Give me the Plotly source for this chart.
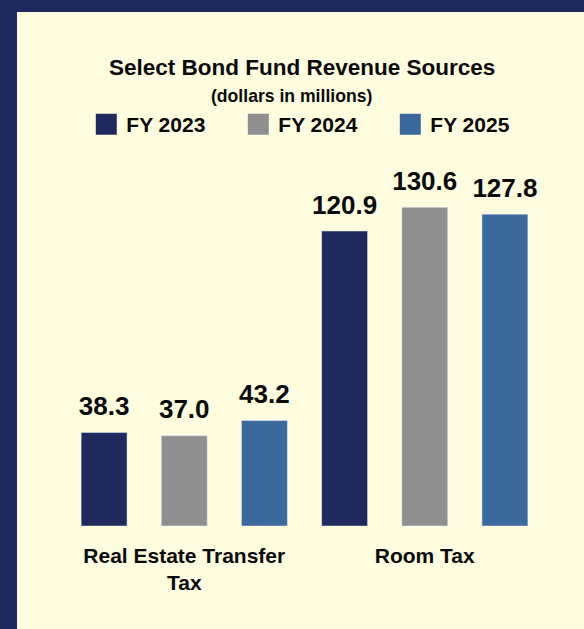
import plotly.graph_objects as go

categories = ["Real Estate Transfer<br>Tax", "Room Tax"]
series_names = ["FY 2023", "FY 2024", "FY 2025"]
fy2023 = [38.3, 120.9]
fy2024 = [37.0, 130.6]
fy2025 = [43.2, 127.8]
series_values = [fy2023, fy2024, fy2025]
colors = ["#1F295E", "#8F8F8F", "#3B699C"]

title_text = "Select Bond Fund Revenue Sources"
subtitle_text = "(dollars in millions)"

W, H = 584, 629
ML, MR, MT, MB = 64, 39, 160, 103
PW = W - ML - MR
PH = H - MT - MB
NAVY = "#1F295E"
CREAM = "#FFFDE0"
SANS = "Liberation Sans, Arial, sans-serif"
TXT = "#0A0A0A"


def ypaper(px):
    return (H - MB - px) / PH


def xpaper(px):
    return (px - ML) / PW


fig = go.Figure()
for name, vals, col in zip(series_names, series_values, colors):
    fig.add_bar(x=categories, y=vals, name=name, marker_color=col,
                offsetgroup=name, showlegend=False, hoverinfo="skip")
for name, vals, col in zip(series_names, series_values, colors):
    fig.add_scatter(x=categories, y=vals, mode="markers+text",
                    text=[f"{v:.1f}" for v in vals], textposition="top center",
                    marker=dict(size=16, opacity=0, color=col),
                    textfont=dict(family=SANS, size=26, color=TXT, weight="bold"),
                    offsetgroup=name, showlegend=False, hoverinfo="skip",
                    cliponaxis=False)
for name, col in zip(series_names, colors):
    fig.add_scatter(x=[None], y=[None], mode="markers", name=name,
                    marker=dict(symbol="square", size=16, color=col,
                                line=dict(width=5, color=col)),
                    offsetgroup=name, showlegend=True)

fig.add_shape(type="rect", xref="paper", yref="paper", layer="below",
              x0=xpaper(17), x1=xpaper(W + 5), y0=ypaper(12), y1=ypaper(H + 5),
              fillcolor=CREAM, line_width=0)

fig.add_annotation(text=title_text, xref="paper", yref="paper",
                   x=xpaper(301.7), y=ypaper(68), xanchor="center", yanchor="middle",
                   showarrow=False,
                   font=dict(family=SANS, size=22.5, color=TXT, weight="bold"))
fig.add_annotation(text=subtitle_text, xref="paper", yref="paper",
                   x=xpaper(291.2), y=ypaper(96.3), xanchor="center", yanchor="middle",
                   showarrow=False,
                   font=dict(family=SANS, size=17.6, color=TXT, weight="bold"))

fig.update_layout(
    width=W, height=H,
    margin=dict(l=ML, r=MR, t=MT, b=MB, pad=0),
    paper_bgcolor=NAVY,
    plot_bgcolor="rgba(0,0,0,0)",
    barmode="group", bargap=0, bargroupgap=0.427,
    scattermode="group", scattergap=0,
    showlegend=True,
    legend=dict(orientation="h", xref="container", yref="container",
                x=86.3 / W, xanchor="left", y=1 - 124.5 / H, yanchor="middle",
                entrywidth=107, entrywidthmode="pixels",
                bgcolor="rgba(0,0,0,0)", itemsizing="trace",
                font=dict(family=SANS, size=21, color=TXT, weight="bold")),
    xaxis=dict(showgrid=False, showline=False, zeroline=False, ticks="",
               tickfont=dict(family=SANS, size=21, color=TXT, weight="bold"),
               ticklabelstandoff=15, fixedrange=True),
    yaxis=dict(visible=False, range=[0, 150], fixedrange=True),
)

fig.write_html("out.html",
               config={"displayModeBar": False},
               post_script="document.body.style.margin='0px';document.body.style.overflow='hidden';")
